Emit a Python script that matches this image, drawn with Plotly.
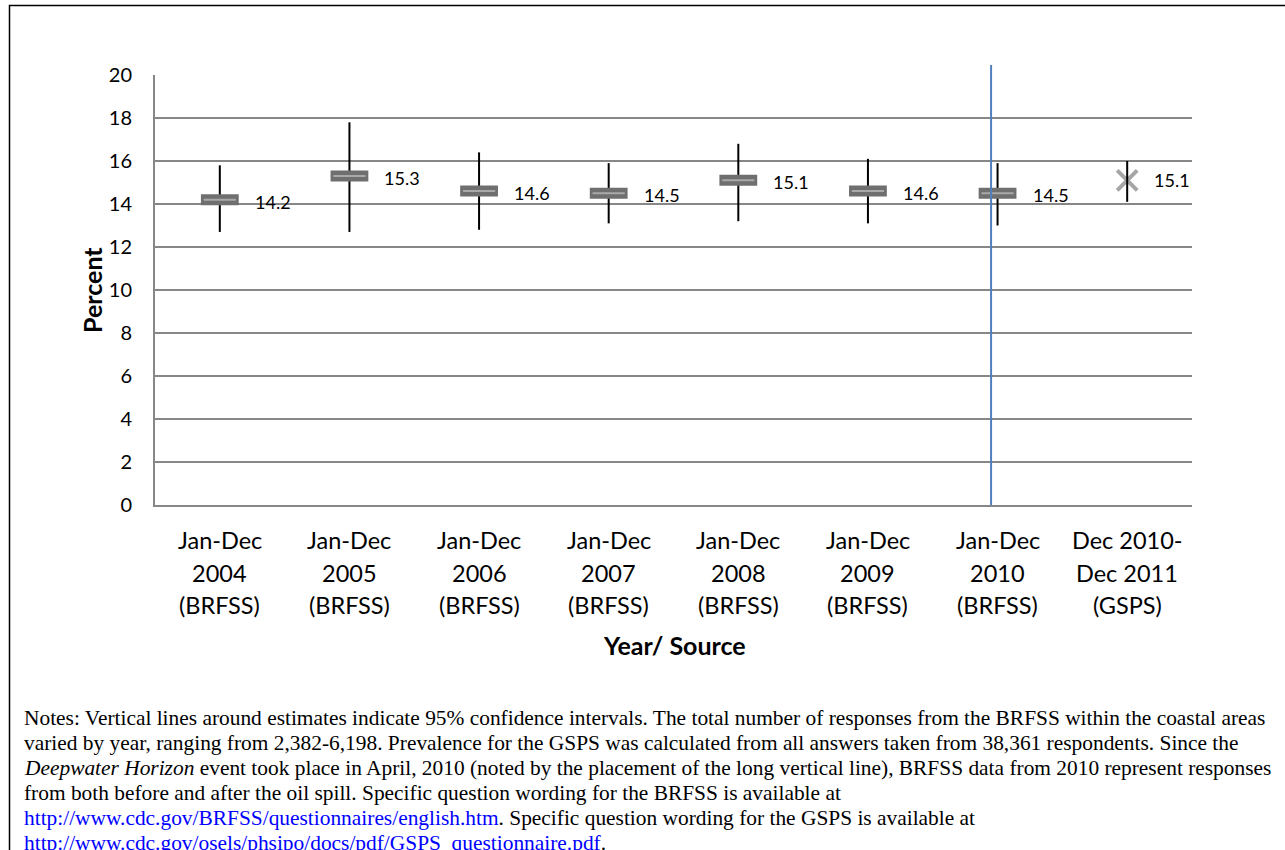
import plotly.graph_objects as go

# Survey periods and sources
period_line1 = ["Jan-Dec", "Jan-Dec", "Jan-Dec", "Jan-Dec", "Jan-Dec", "Jan-Dec", "Jan-Dec", "Dec 2010-"]
period_line2 = ["2004", "2005", "2006", "2007", "2008", "2009", "2010", "Dec 2011"]
sources = ["(BRFSS)", "(BRFSS)", "(BRFSS)", "(BRFSS)", "(BRFSS)", "(BRFSS)", "(BRFSS)", "(GSPS)"]

# Prevalence estimates (percent) with 95% confidence limits
brfss_est = [14.2, 15.3, 14.6, 14.5, 15.1, 14.6, 14.5]
brfss_lo = [12.7, 12.7, 12.8, 13.1, 13.2, 13.1, 13.0]
brfss_hi = [15.8, 17.8, 16.4, 15.9, 16.8, 16.1, 15.9]
gsps_est = [15.1]
gsps_lo = [14.1]
gsps_hi = [16.0]

# Position of the Deepwater Horizon event on the category axis
event_x = 5.95

W, H = 1285, 850
L, R, T, B = 155, 1192, 75, 505
YMAX = 20


def px_x(px):
    return (px - L) / (R - L)


def px_y(py):
    return (B - py) / (B - T)


FONT = "Lato, 'Open Sans', sans-serif"
SERIF = "'Liberation Serif', 'Times New Roman', serif"

n_brfss = len(brfss_est)
xb = list(range(n_brfss))
xg = [n_brfss + i for i in range(len(gsps_est))]

fig = go.Figure()

# BRFSS: confidence interval lines drawn beneath the estimate markers
fig.add_trace(go.Scatter(
    x=xb, y=brfss_est, mode="markers",
    marker=dict(symbol="line-ew", size=27, color="#6f6f6f",
                line=dict(width=11, color="#6f6f6f")),
    error_y=dict(type="data", symmetric=False,
                 array=[h - e for h, e in zip(brfss_hi, brfss_est)],
                 arrayminus=[e - l for e, l in zip(brfss_est, brfss_lo)],
                 color="black", thickness=2, width=0),
    hoverinfo="skip", showlegend=False,
))
# soft highlight stripe on the estimate markers
fig.add_trace(go.Scatter(
    x=xb, y=brfss_est, mode="markers",
    marker=dict(symbol="line-ew", size=23, color="#a9a9a9",
                line=dict(width=2, color="#a9a9a9")),
    hoverinfo="skip", showlegend=False,
))

# GSPS: cross marker with interval line on top
fig.add_trace(go.Scatter(
    x=xg, y=gsps_est, mode="markers",
    marker=dict(symbol="x-thin", size=20, color="#a6a6a6",
                line=dict(width=4, color="#a6a6a6")),
    hoverinfo="skip", showlegend=False,
))
fig.add_trace(go.Scatter(
    x=xg, y=gsps_est, mode="markers",
    marker=dict(size=1, color="rgba(0,0,0,0)"),
    error_y=dict(type="data", symmetric=False,
                 array=[h - e for h, e in zip(gsps_hi, gsps_est)],
                 arrayminus=[e - l for e, l in zip(gsps_est, gsps_lo)],
                 color="black", thickness=2, width=0),
    hoverinfo="skip", showlegend=False,
))

annotations = []
# value labels
for x, v in zip(xb, brfss_est):
    annotations.append(dict(x=x, y=v, xref="x", yref="y", text=f"{v:.1f}",
                            showarrow=False, xanchor="left", yanchor="middle",
                            xshift=33, yshift=-2,
                            font=dict(family=FONT, size=18, color="black")))
for x, v in zip(xg, gsps_est):
    annotations.append(dict(x=x, y=v, xref="x", yref="y", text=f"{v:.1f}",
                            showarrow=False, xanchor="left", yanchor="middle",
                            xshift=25,
                            font=dict(family=FONT, size=18, color="black")))

# category labels, one line each
for i in range(len(period_line1)):
    for py, txt in zip((540, 573, 605), (period_line1[i], period_line2[i], sources[i])):
        annotations.append(dict(x=i, y=px_y(py), xref="x", yref="paper", text=txt,
                                showarrow=False, xanchor="center", yanchor="middle",
                                font=dict(family=FONT, size=23.5, color="black")))

# axis titles
annotations.append(dict(x=px_x(674), y=px_y(645), xref="paper", yref="paper",
                        text="<b>Year/ Source</b>", showarrow=False,
                        xanchor="center", yanchor="middle",
                        font=dict(family=FONT, size=25, color="black")))
annotations.append(dict(x=px_x(92), y=px_y(290), xref="paper", yref="paper",
                        text="<b>Percent</b>", showarrow=False, textangle=-90,
                        xanchor="center", yanchor="middle",
                        font=dict(family=FONT, size=25, color="black")))

# notes beneath the chart
blue = "<span style='color:#0000ff'>{}</span>"
notes = [
    "Notes: Vertical lines around estimates indicate 95% confidence intervals. The total number of responses from the BRFSS within the coastal areas",
    "varied by year, ranging from 2,382-6,198. Prevalence for the GSPS was calculated from all answers taken from 38,361 respondents. Since the",
    "<i>Deepwater Horizon</i> event took place in April, 2010 (noted by the placement of the long vertical line), BRFSS data from 2010 represent responses",
    "from both before and after the oil spill. Specific question wording for the BRFSS is available at",
    blue.format("http://www.cdc.gov/BRFSS/questionnaires/english.htm") + ". Specific question wording for the GSPS is available at",
    blue.format("http://www.cdc.gov/osels/phsipo/docs/pdf/GSPS_questionnaire.pdf") + ".",
]
for k, line in enumerate(notes):
    annotations.append(dict(x=px_x(22), y=px_y(718 + 25 * k), xref="paper", yref="paper",
                            text=line, showarrow=False, xanchor="left", yanchor="middle",
                            font=dict(family=SERIF, size=21.4, color="black")))

shapes = [
    # event marker line
    dict(type="line", xref="x", yref="paper", x0=event_x, x1=event_x,
         y0=0, y1=px_y(65), line=dict(color="#4f81bd", width=2)),
    # outer frame
    dict(type="rect", xref="paper", yref="paper", x0=px_x(9.5), x1=px_x(1300),
         y0=px_y(5.5), y1=px_y(900), line=dict(color="black", width=1.5),
         fillcolor="rgba(0,0,0,0)", layer="below"),
]

fig.update_layout(
    width=W, height=H,
    margin=dict(l=L, r=W - R, t=T, b=H - B, pad=0),
    paper_bgcolor="white", plot_bgcolor="white",
    showlegend=False,
    annotations=annotations,
    shapes=shapes,
    xaxis=dict(range=[-0.5, len(period_line1) - 0.5], tickvals=list(range(len(period_line1))),
               showticklabels=False, showgrid=False, zeroline=False,
               showline=True, linecolor="#878787", linewidth=2, ticks=""),
    yaxis=dict(range=[0, YMAX], dtick=2, tick0=0, showgrid=True,
               gridcolor="#878787", gridwidth=2, zeroline=False,
               showline=True, linecolor="#878787", linewidth=2, ticks="",
               ticklabelstandoff=17,
               tickfont=dict(family=FONT, size=20, color="black")),
)

fig.write_html("out.html")
